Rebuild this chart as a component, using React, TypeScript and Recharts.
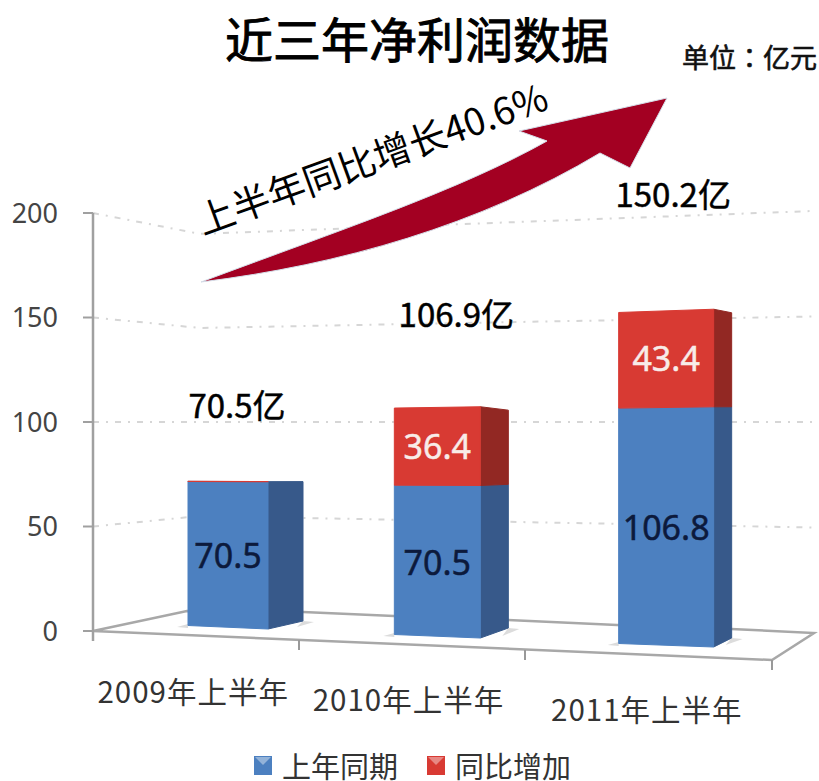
import React from 'react';
import { BarChart, Bar, XAxis, YAxis, CartesianGrid, Legend } from 'recharts';

const CJK = '"Noto Sans CJK SC", sans-serif';

const categories = ['2009年上半年', '2010年上半年', '2011年上半年'];
const lastYear = [70.5, 70.5, 106.8];
const yoyIncrease = [0, 36.4, 43.4];
const totals = [70.5, 106.9, 150.2];
const yTicks = [0, 50, 100, 150, 200];

const tableData = categories.map((name, i) => ({
  name,
  lastYear: lastYear[i],
  yoyIncrease: yoyIncrease[i],
  total: totals[i],
}));

// the picture is a tilted 3d chart, these bend the flat scales per category
const ZERO_Y = 631;
const BAR_W = 90;
const shiftX = [27, 7, 5];
const scaleW = [80 / 90, 86 / 90, 95 / 90];
const sideW = [35, 28, 18];
const floorY = [629, 638, 647];
const scaleH = [1, 1.035, 1.076];
const sideRise = [8, 10, 9];
const sideSlope = [0.054, 0.06, 0.04];
const totalDx = [9, 19, 7];
const totalLift = [78, 94, 116];
const tickLabelDx = [-13, -24, -12];
const tickLabelY = [690, 698, 708];
const tickMarkX = [299, 525, 772];
const tickMarkY = [640, 650, 660];

const Bar3D = (props: any) => {
  const { x, y, width, height, index, payload, dataKey, front, side, textColor } = props;
  const i = index;
  const base = y + height;
  const h1 = ZERO_Y - base;
  const h2 = ZERO_Y - y;
  const proj = (h: number) => floorY[i] - h * scaleH[i];
  const leftOff = (h: number) => -3.5 + h * 0.0215;
  const sideOff = (h: number) => -sideRise[i] + h * sideSlope[i];
  const L = x + shiftX[i];
  const R = L + width * scaleW[i];
  const E = R + sideW[i];
  const value = payload[dataKey];
  const frontPts = `${L},${proj(h2) + leftOff(h2)} ${R},${proj(h2)} ${R},${proj(h1)} ${L},${proj(h1) + leftOff(h1)}`;
  const sidePts = `${R},${proj(h2)} ${E},${proj(h2) + sideOff(h2)} ${E},${proj(h1) + sideOff(h1)} ${R},${proj(h1)}`;
  return (
    <g>
      {dataKey === 'lastYear' && (
        <g fill="#dcdcdc">
          <polygon points={`${L - 11},${proj(0) - 2} ${L},${proj(0) - 5} ${L},${proj(0) - 1}`} />
          <polygon points={`${E},${proj(0) - sideRise[i]} ${E + 11},${proj(0) - sideRise[i] + 1} ${E - 6},${proj(0) - 2}`} />
        </g>
      )}
      {value > 0 && <polygon points={sidePts} fill={side} stroke={side} strokeWidth={1} strokeLinejoin="round" />}
      <polygon points={frontPts} fill={front} stroke={front} strokeWidth={value > 0 ? 1 : 1.2} strokeLinejoin="round" />
      {value > 0 && (
        <text
          x={(L + R) / 2}
          y={(proj(h1) + proj(h2)) / 2}
          textAnchor="middle"
          dominantBaseline="central"
          fontFamily='"Noto Sans", sans-serif'
          fontSize={34}
          fill={textColor}
          stroke={textColor}
          strokeWidth={0.5}
        >
          {value.toFixed(1)}
        </text>
      )}
      {dataKey === 'yoyIncrease' && (
        <text
          x={(L + R) / 2 + totalDx[i]}
          y={proj(h2) - totalLift[i]}
          textAnchor="middle"
          dominantBaseline="central"
          fontFamily={CJK}
          fontSize={33}
          fill="#000"
          stroke="#000"
          strokeWidth={0.5}
        >
          {payload.total.toFixed(1)}亿
        </text>
      )}
    </g>
  );
};

const GridLine = (props: any) => {
  const { y1, key } = props;
  if (y1 > ZERO_Y - 5) return <g key={key} />;
  const kink = y1 + (422 - y1) * 0.1;
  const end = y1 - (422 - y1) * 0.01;
  return (
    <path
      key={key}
      d={`M93,${y1} L200,${kink} L815,${end}`}
      fill="none"
      stroke="#d6d6d6"
      strokeWidth={2}
      strokeDasharray="6 7 2 7"
    />
  );
};

const CategoryTick = (props: any) => {
  const { x, payload, index } = props;
  const m = tickMarkX[index];
  return (
    <g>
      <line x1={m} x2={m} y1={tickMarkY[index]} y2={tickMarkY[index] + 10} stroke="#999" strokeWidth={2} />
      <text
        x={x + tickLabelDx[index]}
        y={tickLabelY[index]}
        textAnchor="middle"
        dominantBaseline="central"
        fontFamily={CJK}
        fontSize={29.5}
        letterSpacing={1}
        fill="#333"
      >
        {payload.value}
      </text>
    </g>
  );
};

const LegendRow = ({ payload }: any) => (
  <div style={{ position: 'relative', width: 819, height: 34, fontFamily: CJK, fontSize: 29, color: '#333' }}>
    {payload.map((p: any, i: number) => (
      <React.Fragment key={p.value}>
        <svg width={18} height={19} style={{ position: 'absolute', left: i === 0 ? 254 : 427, top: 9 }}>
          <rect width={18} height={19} fill={p.color} />
          <polygon points="1,1 17,1 9,9" fill="#fff" fillOpacity={0.4} />
        </svg>
        <span style={{ position: 'absolute', left: i === 0 ? 282 : 455, top: 3, whiteSpace: 'nowrap', lineHeight: '30px' }}>
          {p.value}
        </span>
      </React.Fragment>
    ))}
  </div>
);

export default function App() {
  return (
    <div style={{ position: 'absolute', left: 0, top: 0, width: 819, height: 781, background: '#fff' }}>
      <BarChart
        width={819}
        height={781}
        data={tableData}
        barSize={BAR_W}
        margin={{ top: 213, right: 47, bottom: 80, left: 0 }}
      >
        <CartesianGrid vertical={false} horizontal={GridLine} />
        <XAxis dataKey="name" height={70} axisLine={false} tickLine={false} interval={0} tick={CategoryTick} />
        <YAxis
          width={93}
          domain={[0, 200]}
          ticks={yTicks}
          interval={0}
          tickSize={10}
          tickMargin={25}
          axisLine={{ stroke: '#a0a0a0', strokeWidth: 2.5 }}
          tickLine={{ stroke: '#a0a0a0', strokeWidth: 2 }}
          tick={{ fontSize: 27, fill: '#444', fontFamily: '"Noto Sans", sans-serif' }}
        />
        {/* floor of the 3d box */}
        <path
          d="M93,631 L772,660 L814,633 L731,629 L617,625 L507,620 L394,616 L303,612 L187,611 L93,631"
          fill="none"
          stroke="#a8a8a8"
          strokeWidth={2.5}
        />
        <line x1={93} x2={93} y1={631} y2={641} stroke="#a0a0a0" strokeWidth={2.5} />
        <Legend
          verticalAlign="middle"
          wrapperStyle={{ left: 0, top: 747, width: 819 }}
          content={LegendRow}
        />
        <Bar
          dataKey="lastYear"
          name="上年同期"
          stackId="a"
          fill="#4c80c0"
          isAnimationActive={false}
          shape={(p: any) => <Bar3D {...p} dataKey="lastYear" front="#4c80c0" side="#37598a" textColor="#0c1a3c" />}
        />
        <Bar
          dataKey="yoyIncrease"
          name="同比增加"
          stackId="a"
          fill="#d83a33"
          isAnimationActive={false}
          shape={(p: any) => <Bar3D {...p} dataKey="yoyIncrease" front="#d83a33" side="#922823" textColor="#f8ece8" />}
        />
        {/* arrow and heading text */}
        <path
          d="M201,282 C340,230 460,190 547,141 L519,131 L667,98 L630,168 L600,153 C480,225 340,265 201,282 Z"
          fill="#a30022"
          stroke="#d5dfea"
          strokeWidth={1}
        />
        <text x={225} y={37} dominantBaseline="central" fontFamily={CJK} fontSize={48} fill="#000" stroke="#000" strokeWidth={0.9}>
          近三年净利润数据
        </text>
        <text x={682} y={56} dominantBaseline="central" fontFamily={CJK} fontSize={27} fill="#111" stroke="#111" strokeWidth={0.6}>
          单位<tspan fontFamily='"Noto Sans CJK TC", sans-serif'>：</tspan>亿元
        </text>
        <text
          x={203}
          y={235}
          transform="rotate(-20 203 235)"
          fontFamily={CJK}
          fontSize={37.5}
          fill="#000"
        >
          上半年同比增长40.6%
        </text>
      </BarChart>
    </div>
  );
}
